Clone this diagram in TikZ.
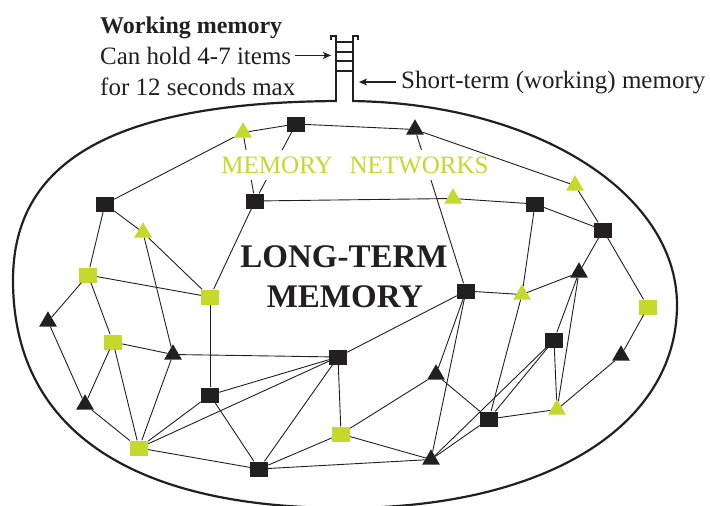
\documentclass[tikz,border=0pt]{standalone}
\usepackage{fontspec}
\setmainfont{Liberation Serif}
\usetikzlibrary{shapes.geometric,arrows.meta}
\definecolor{lime}{HTML}{C5D92D}
\definecolor{ink}{HTML}{231F20}
\tikzset{
  bsq/.style={rectangle, fill=ink, minimum width=18pt, minimum height=15pt, inner sep=0pt},
  gsq/.style={bsq, fill=lime},
  btri/.style={regular polygon, regular polygon sides=3, fill=ink, minimum size=20.5pt, inner sep=0pt},
  gtri/.style={btri, fill=lime},
  link/.style={draw=ink, line width=0.9pt},
  outline/.style={draw=ink, line width=2.2pt, line join=miter},
  rung/.style={draw=ink, line width=2pt},
  txt/.style={inner sep=0pt, text=ink},
  pointer/.style={draw=ink, line width=1.2pt, -{Stealth[length=8pt,width=7pt,inset=2pt]}},
}
\begin{document}
\begin{tikzpicture}[x=1pt,y=-1pt]
\useasboundingbox (0,0) rectangle (710,506);
% long-term memory outline
\draw[outline] (13,280) .. controls (13,158) and (119,101) .. (345,101)
  .. controls (531,101) and (677,191) .. (677,305)
  .. controls (677,427) and (544,508) .. (345,508)
  .. controls (129,508) and (13,428) .. (13,280) -- cycle;
% opening into the neck
\fill[white] (337.1,97) rectangle (351.9,104);
\draw[outline] (331,40) -- (331,36) -- (336,36) -- (336,102);
\draw[outline] (353,102) -- (353,36) -- (358,36) -- (358,40);
\foreach \yy in {42,51.5,61,70.5} \draw[rung] (336,\yy) -- (353,\yy);
\coordinate (tipL) at (331,57);
\coordinate (tipR) at (359,81);

% texts
\node[txt, anchor=base west, font=\fontsize{24}{30}\selectfont\bfseries] (wm) at (100,33) {Working memory};
\node[txt, anchor=base west, font=\fontsize{25}{30}\selectfont] (can) at (100,64) {Can hold 4-7 items};
\node[txt, anchor=base west, font=\fontsize{25}{30}\selectfont] (for) at (100,95) {for 12 seconds max};
\node[txt, anchor=base west, font=\fontsize{25}{30}\selectfont] (stm) at (401,88) {Short-term (working) memory};
\draw[pointer, shorten <=4pt] (can.east) -- (tipL |- can.east);
\draw[pointer, shorten <=5pt] (stm.west) -- (tipR |- stm.west);

% nodes
\node[bsq] (B1) at (296,124) {};
\node[bsq] (B2) at (255,201) {};
\node[bsq] (B3) at (535,204) {};
\node[bsq] (B4) at (603,230) {};
\node[bsq] (B5) at (105,204) {};
\node[bsq] (B6) at (466,291) {};
\node[bsq] (B7) at (338,357) {};
\node[bsq] (B8) at (554,340) {};
\node[bsq] (B9) at (210,395) {};
\node[bsq] (B10) at (489,419) {};
\node[bsq] (B11) at (259,469) {};
\node[gsq] (S1) at (88,275) {};
\node[gsq] (S2) at (210,297) {};
\node[gsq] (S3) at (648,307) {};
\node[gsq] (S4) at (113,342) {};
\node[gsq] (S5) at (139,448) {};
\node[gsq] (S6) at (341,434) {};
\node[gtri] (G1) at (243,132.5) {};
\node[btri] (T1) at (415,129.5) {};
\node[gtri] (G2) at (453,198.5) {};
\node[gtri] (G3) at (575,185.5) {};
\node[gtri] (G4) at (143,232.5) {};
\node[btri] (T2) at (579,272.5) {};
\node[gtri] (G5) at (522,294.5) {};
\node[btri] (T3) at (48,321.5) {};
\node[btri] (T4) at (173,354.5) {};
\node[btri] (T5) at (621,355.5) {};
\node[btri] (T6) at (85,404.5) {};
\node[btri] (T7) at (436,374.5) {};
\node[gtri] (G6) at (557,409.5) {};
\node[btri] (T8) at (431,459.5) {};

% edges hidden behind the label
\draw[link] (G1) -- (B2);
\draw[link] (B1) -- (B2);
\draw[link] (T1) -- (B6);
\node[fill=white, inner xsep=2pt, inner ysep=7pt, text=lime, font=\fontsize{25}{30}\selectfont] (mn) at (355,165) {MEMORY\hspace{17pt}NETWORKS};

% other edges
\foreach \a/\b in {G1/B1, B1/T1, G1/B5, T1/G3, B2/G2, G2/B3, B3/B4, G3/B4, B3/G5, B6/G5, G5/T2, B4/T2, B4/S3,
  B5/S1, B5/G4, G4/S2, G4/T4, S1/S2, S2/B2, S1/T3, S1/S4, S2/B9,
  T3/T6, S4/T6, S4/T4, T4/B7, S4/S5, T4/S5, T6/S5, S5/B9, S5/B7, S5/B11, B9/B7, B9/B11, B7/B11, B7/S6, S6/B11, B11/T8, S6/T7, S6/T8, B7/B6,
  B6/T7, B6/T8, T7/B10, G5/B10, T2/B8, T2/G6, B8/G6, B8/B10, B8/T8, B10/T8, B10/G6, G6/T5, T5/S3}
  \draw[link] (\a) -- (\b);

\node[txt, font=\fontsize{33}{40}\selectfont\bfseries, anchor=base] (ltm1) at (344,267) {LONG-TERM};
\node[txt, font=\fontsize{33}{40}\selectfont\bfseries, anchor=base] (ltm2) at (345,307) {MEMORY};
\end{tikzpicture}
\end{document}
